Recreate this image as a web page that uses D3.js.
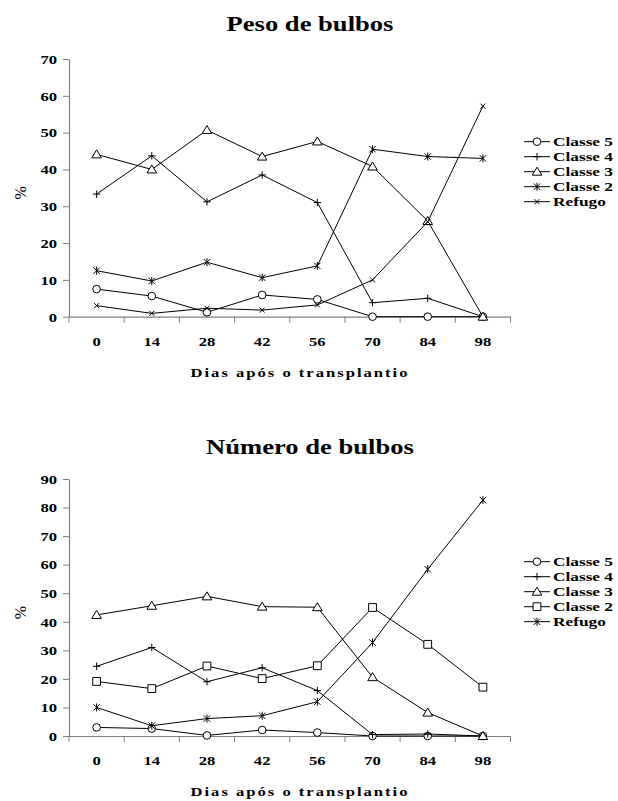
<!DOCTYPE html>
<html><head><meta charset="utf-8">
<script src="https://cdn.jsdelivr.net/npm/d3@7"></script>
<style>body{margin:0;background:#fff}svg{display:block}text{font-family:"Liberation Serif","Times New Roman",serif;font-weight:bold;fill:#000}</style>
</head><body>
<svg id="c" width="618" height="801"></svg>
<script>
const categories = ["0","14","28","42","56","70","84","98"];
const xTitle = "Dias após o transplantio";

const pesoTitle = "Peso de bulbos";
const pesoTicks = [0,10,20,30,40,50,60,70];
const pesoNames = ["Classe 5","Classe 4","Classe 3","Classe 2","Refugo"];
const pesoMarkers = ["circle","plus","triangle","star","x"];
const pesoClasse5 = [7.5, 5.6, 1.2, 5.9, 4.7, 0, 0, 0];
const pesoClasse4 = [33.3, 43.7, 31.2, 38.5, 31.0, 3.8, 5.0, 0];
const pesoClasse3 = [44.1, 40.0, 50.7, 43.5, 47.6, 40.8, 26.0, 0];
const pesoClasse2 = [12.5, 9.7, 14.8, 10.6, 13.8, 45.5, 43.5, 43.0];
const pesoRefugo  = [3.0, 0.9, 2.3, 1.8, 3.2, 10.0, 25.8, 57.2];

const numTitle = "Número de bulbos";
const numTicks = [0,10,20,30,40,50,60,70,80,90];
const numNames = ["Classe 5","Classe 4","Classe 3","Classe 2","Refugo"];
const numMarkers = ["circle","plus","triangle","square","star"];
const numClasse5 = [3.0, 2.6, 0.2, 2.1, 1.2, 0, 0, 0];
const numClasse4 = [24.4, 31.0, 19.0, 23.9, 15.9, 0.5, 0.7, 0];
const numClasse3 = [42.4, 45.6, 48.9, 45.3, 45.1, 20.6, 8.2, 0];
const numClasse2 = [19.1, 16.6, 24.5, 20.1, 24.6, 45.0, 32.1, 17.1];
const numRefugo  = [10.0, 3.6, 6.1, 7.1, 12.0, 32.7, 58.4, 82.6];

const SX = 1.33;
const markerPaths = {
  circle: d3.symbol(d3.symbolCircle, 46)(),
  triangle: "M0,-4.5L4.8,3.5L-4.8,3.5Z",
  square: "M-3.9,-3.9h7.8v7.8h-7.8Z",
  plus: "M-3.7,0H3.7M0,-3.7V3.7",
  star: "M-3.2,-3.2L3.2,3.2M-3.2,3.2L3.2,-3.2M0,-4V4",
  x: "M-2.5,-2.5L2.5,2.5M-2.5,2.5L2.5,-2.5"
};
const filled = {circle:true, triangle:true, square:true};

const svg = d3.select("#c");

function stext(g, x, y, txt, size, anchor, ls) {
  return g.append("text")
    .attr("transform", `translate(${x},${y}) scale(${SX},1)`)
    .attr("text-anchor", anchor)
    .style("font-size", size + "px")
    .style("letter-spacing", (ls||0) + "px")
    .text(txt);
}

function drawChart(cfg) {
  const g = svg.append("g");
  const x = d3.scaleBand().domain(categories).range([69, 510.5]).padding(0);
  const y = d3.scaleLinear().domain([0, cfg.max]).range([cfg.bottom, cfg.top]);
  const cx = c => x(c) + x.bandwidth() / 2;

  stext(g, 310, cfg.titleY, cfg.title, 20, "middle");

  const ya = g.append("g").attr("transform", "translate(69,0)")
    .call(d3.axisLeft(y).tickValues(cfg.ticks).tickSize(6).tickPadding(6).tickSizeOuter(0));
  ya.select(".domain").attr("stroke", "#808080").attr("stroke-width", 1.2);
  ya.selectAll(".tick line").attr("stroke", "#808080");
  ya.selectAll(".tick text")
    .attr("x", null).attr("dy", null).attr("y", 4.3)
    .attr("fill", "#000")
    .attr("transform", `translate(-12,0) scale(${SX},1)`)
    .style("font-size", "12.5px").style("font-family", "Liberation Serif").style("font-weight", "bold");

  const xa = g.append("g").attr("transform", `translate(0,${cfg.bottom})`)
    .call(d3.axisBottom(x).tickSize(0).tickPadding(0).tickSizeOuter(0));
  xa.select(".domain").attr("stroke", "#808080").attr("stroke-width", 1.2);
  xa.selectAll(".tick text")
    .attr("dy", null).attr("y", 29.5).attr("fill", "#000")
    .attr("transform", `scale(${SX},1)`)
    .style("font-size", "12.5px").style("font-family", "Liberation Serif").style("font-weight", "bold");
  const edges = categories.map(c => x(c)).concat([x.range()[1]]);
  g.append("g").selectAll("line").data(edges).join("line")
    .attr("x1", d => d).attr("x2", d => d)
    .attr("y1", cfg.bottom).attr("y2", cfg.bottom + 6)
    .attr("stroke", "#808080");

  stext(g, 300, cfg.bottom + 60, xTitle, 12.5, "middle", 1.5);
  g.append("text")
    .attr("transform", `translate(26,${(cfg.top + cfg.bottom) / 2 + 5}) rotate(-90)`)
    .attr("text-anchor", "middle")
    .style("font-size", "16px").style("font-weight", "normal")
    .text("%");

  const line = d3.line().x((d, i) => cx(categories[i])).y(d => y(d));
  cfg.series.forEach((vals, si) => {
    const m = cfg.markers[si];
    g.append("path").attr("d", line(vals)).attr("fill", "none")
      .attr("stroke", "#000").attr("stroke-width", 1);
    g.append("g").selectAll("path").data(vals).join("path")
      .attr("transform", (d, i) => `translate(${cx(categories[i])},${y(d)})`)
      .attr("d", markerPaths[m])
      .attr("fill", filled[m] ? "#fff" : "none")
      .attr("stroke", "#000").attr("stroke-width", 1);
  });

  cfg.names.forEach((n, i) => {
    const ly = cfg.legendY + i * cfg.legendStep;
    const m = cfg.markers[i];
    g.append("line").attr("x1", 524).attr("x2", 550).attr("y1", ly).attr("y2", ly)
      .attr("stroke", "#000").attr("stroke-width", 1);
    g.append("path").attr("transform", `translate(537,${ly})`).attr("d", markerPaths[m])
      .attr("fill", filled[m] ? "#fff" : "none").attr("stroke", "#000");
    stext(g, 553, ly + 4.5, n, 13, "start");
  });
}

drawChart({
  title: pesoTitle, titleY: 30.5, max: 70, ticks: pesoTicks, top: 59, bottom: 316.7,
  series: [pesoClasse5, pesoClasse4, pesoClasse3, pesoClasse2, pesoRefugo],
  names: pesoNames, markers: pesoMarkers, legendY: 141.7, legendStep: 15
});
drawChart({
  title: numTitle, titleY: 454, max: 90, ticks: numTicks, top: 479, bottom: 736,
  series: [numClasse5, numClasse4, numClasse3, numClasse2, numRefugo],
  names: numNames, markers: numMarkers, legendY: 561.7, legendStep: 15
});
</script>
</body></html>
